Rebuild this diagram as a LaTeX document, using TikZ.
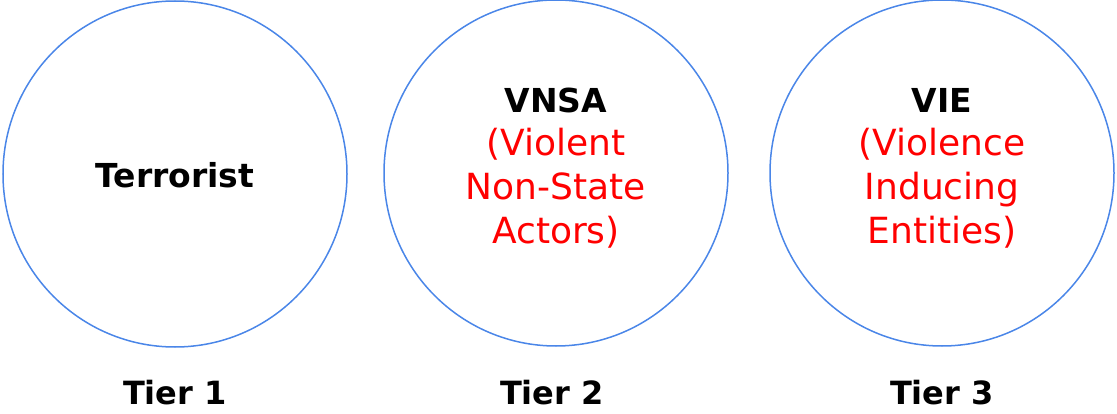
\documentclass[tikz,border=0pt]{standalone}
\usepackage{fontspec}
\setmainfont{DejaVu Sans}
\definecolor{ringblue}{HTML}{4A86E8}
\definecolor{tierred}{HTML}{FF0000}
\tikzset{
  ring/.style={draw=ringblue, line width=1.5pt, ellipse, minimum width=344pt, minimum height=346pt, inner sep=0pt},
  head/.style={font=\fontsize{33}{44}\selectfont\bfseries, align=center, inner sep=0pt},
  expl/.style={font=\fontsize{36}{44}\selectfont, text=tierred, align=center, inner sep=0pt},
  tier/.style={font=\fontsize{32}{40}\selectfont\bfseries, inner sep=0pt}
}
\usetikzlibrary{shapes.geometric}

\begin{document}
\begin{tikzpicture}[x=1pt, y=-1pt]
        \useasboundingbox (0,0) rectangle (1117,414);
        \node[ring] (c1) at (175,174) {};
        \node[ring] (c2) at (556,173) {};
        \node[ring] (c3) at (942,173) {};
        \node[head] (terror) at (175,175) {Terrorist};
        \node[head] (vnsa) at (556,100) {VNSA};
        \node[expl, anchor=north] (vnsaexp) at (556,128) {(Violent\\Non-State\\Actors)};
        \node[head] (vie) at (942,100) {VIE};
        \node[expl, anchor=north] (vieexp) at (942,128) {(Violence\\Inducing\\Entities)};
        \node[tier] (t1) at (175,393) {Tier 1};
        \node[tier] (t2) at (552,393) {Tier 2};
        \node[tier] (t3) at (942,393) {Tier 3};
      \end{tikzpicture}
\end{document}
